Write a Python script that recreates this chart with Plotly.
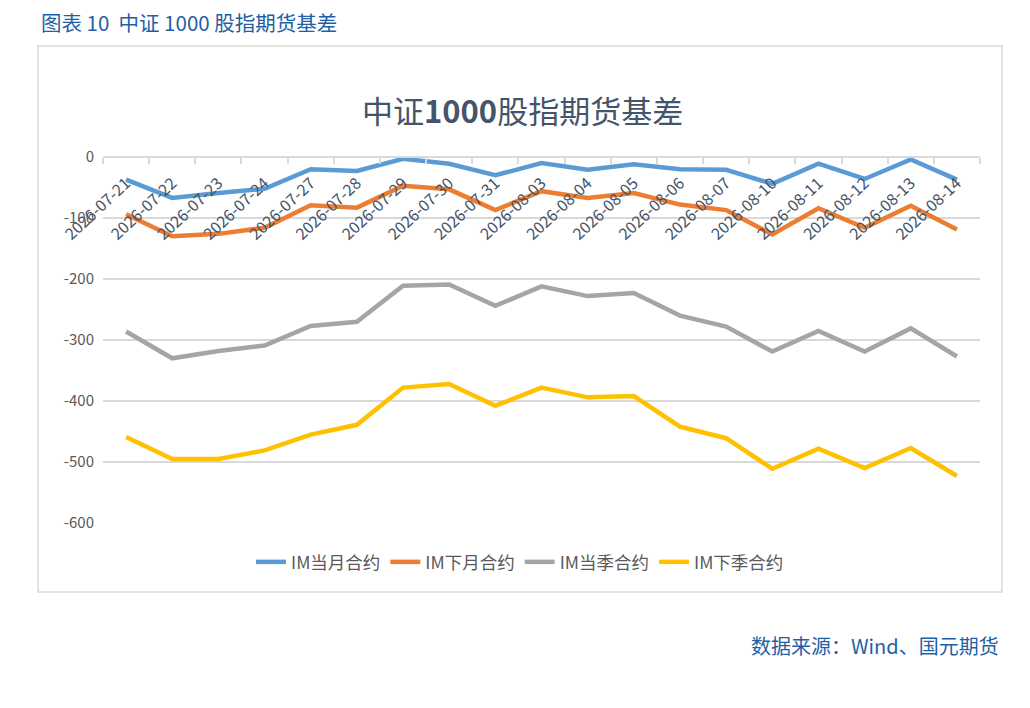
import plotly.graph_objects as go

# 日期（类别轴）
dates = ['2026-07-21', '2026-07-22', '2026-07-23', '2026-07-24', '2026-07-27',
         '2026-07-28', '2026-07-29', '2026-07-30', '2026-07-31', '2026-08-03',
         '2026-08-04', '2026-08-05', '2026-08-06', '2026-08-07', '2026-08-10',
         '2026-08-11', '2026-08-12', '2026-08-13', '2026-08-14']

# 各合约基差
im_cur_month = [-37, -67, -59, -52, -20, -23, -3, -11, -30, -10,
                -21, -12, -20, -21, -44, -11, -36, -4, -37]
im_next_month = [-94, -130, -126, -116, -79, -83, -47, -53, -87, -56,
                 -67, -59, -78, -87, -127, -84, -116, -80, -119]
im_cur_quarter = [-286, -330, -318, -309, -277, -270, -211, -209, -244, -212,
                  -228, -223, -260, -278, -319, -285, -319, -281, -327]
im_next_quarter = [-459, -495, -495, -481, -455, -439, -378, -372, -408, -378,
                   -394, -392, -442, -461, -511, -478, -510, -477, -523]

# y 轴刻度（Excel 风格用普通连字符）
y_ticks = [0, -100, -200, -300, -400, -500, -600]
y_tick_text = ['0', '-100', '-200', '-300', '-400', '-500', '-600']

series = [
    ('IM当月合约', im_cur_month, '#5B9BD5'),
    ('IM下月合约', im_next_month, '#ED7D31'),
    ('IM当季合约', im_cur_quarter, '#A5A5A5'),
    ('IM下季合约', im_next_quarter, '#FFC000'),
]

FONT = 'Noto Sans CJK SC'
BLUE_TXT = '#1F5FA6'
GRID = '#D9D9D9'

fig = go.Figure()
for name, vals, color in series:
    fig.add_trace(go.Scatter(x=dates, y=vals, name=name, mode='lines',
                             line=dict(color=color, width=4.5)))

# page has an 8px body margin; work in page pixels and convert
OFF = 8
W, H = 1014, 692
L, R, T, B = 103 - OFF, 980 - OFF, 157 - OFF, 523 - OFF


def px_x(p):
    return (p - OFF - L) / (R - L)


def px_y(p):
    return (B - (p - OFF)) / (B - T)


fig.update_layout(
    width=W, height=H,
    margin=dict(l=L, r=W - R, t=T, b=H - B),
    paper_bgcolor='white', plot_bgcolor='white',
    font=dict(family=FONT, color='#595959', size=15),
    showlegend=True,
    legend=dict(orientation='h', x=px_x(520), y=px_y(562),
                xanchor='center', yanchor='middle',
                font=dict(size=17.5, color='#595959'),
                itemwidth=30, tracegroupgap=0),
)

fig.update_xaxes(
    type='category', anchor='free', position=1, side='bottom',
    showline=True, linecolor=GRID, linewidth=1.5,
    ticks='outside', tickson='boundaries', ticklen=6, tickcolor=GRID,
    tickwidth=1.5, tickangle=-43, ticklabelstandoff=10,
    tickfont=dict(size=16, color='#44546A'),
    showgrid=False, range=[-0.5, len(dates) - 0.5],
)
fig.update_yaxes(
    range=[-600, 0], tickmode='array', tickvals=y_ticks, ticktext=y_tick_text,
    showgrid=True, gridcolor=GRID, gridwidth=1.5,
    zeroline=False, showline=False, ticks='',
    tickfont=dict(size=15, color='#595959'), ticklabelstandoff=8,
)

# chart frame
fig.add_shape(type='rect', xref='paper', yref='paper',
              x0=px_x(38), x1=px_x(1002), y0=px_y(592), y1=px_y(46),
              line=dict(color=GRID, width=1.5), fillcolor='rgba(0,0,0,0)',
              layer='below')

fig.add_annotation(text='中证<b>1000</b>股指期货基差', xref='paper', yref='paper',
                   x=px_x(522), y=px_y(110), xanchor='center', yanchor='middle',
                   showarrow=False, font=dict(family=FONT, size=31, color='#44546A'))
fig.add_annotation(text='图表 10  中证 1000 股指期货基差', xref='paper', yref='paper',
                   x=px_x(39), y=px_y(22), xanchor='left', yanchor='middle',
                   showarrow=False, font=dict(family=FONT, size=20.5, color=BLUE_TXT))
fig.add_annotation(text='数据来源：Wind、国元期货', xref='paper', yref='paper',
                   x=px_x(1001), y=px_y(645), xanchor='right', yanchor='middle',
                   showarrow=False, font=dict(family=FONT, size=20, color=BLUE_TXT))

fig.write_html('out.html')
